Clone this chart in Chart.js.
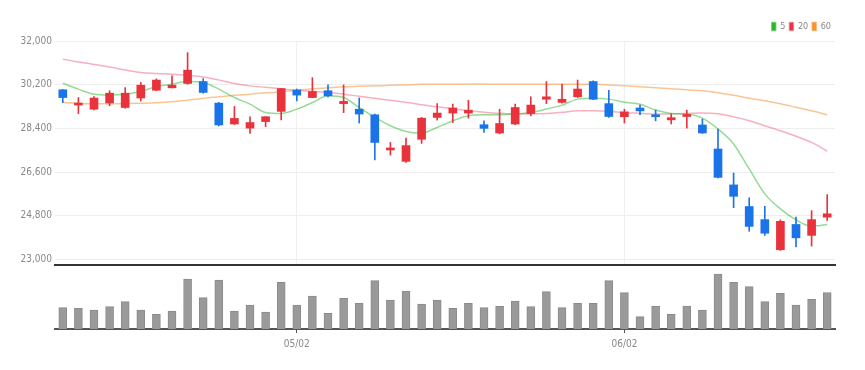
<!DOCTYPE html>
<html>
<head>
<meta charset="utf-8">
<script src="https://cdn.jsdelivr.net/npm/chart.js@4.4.0/dist/chart.umd.min.js"></script>
<style>
  body { margin: 0; background: #fff; }
  #wrap { position: relative; width: 865px; height: 370px; }
  #price_box { position: absolute; left: 0; top: 0; width: 865px; height: 274px; }
  #volume_box { position: absolute; left: 0; top: 266px; width: 865px; height: 104px; }
</style>
</head>
<body>
<div id="wrap">
  <div id="price_box"><canvas id="price_chart"></canvas></div>
  <div id="volume_box"><canvas id="volume_chart"></canvas></div>
</div>
<script>
// trading days, 2022-04-11 .. 2022-06-22
var dates = ["04/11","04/12","04/13","04/14","04/15","04/18","04/19","04/20","04/21","04/22",
             "04/25","04/26","04/27","04/28","04/29","05/02","05/03","05/04","05/06","05/09",
             "05/10","05/11","05/12","05/13","05/16","05/17","05/18","05/19","05/20","05/23",
             "05/24","05/25","05/26","05/27","05/30","05/31","06/02","06/03","06/07","06/08",
             "06/09","06/10","06/13","06/14","06/15","06/16","06/17","06/20","06/21","06/22"];

var opens  = [29990,29360,29190,29450,29260,29650,29970,30070,30250,30330,
              29440,28580,28410,28680,29100,29980,29670,29950,29420,29190,
              28960,27510,27040,27950,28850,29030,29030,28550,28210,28580,
              29010,29600,29470,29700,30330,29420,28880,29240,28960,28750,
              28890,28540,27550,26070,25180,24640,23400,24440,23990,24740];
var highs  = [30000,29670,29710,29950,30080,30290,30440,30560,31520,30450,
              29470,29300,28880,28880,30050,30020,30490,30190,30190,29650,
              28990,27820,28000,28850,29420,29400,29560,28710,29190,29400,
              29700,30330,30220,30390,30360,29970,29190,29360,29150,29000,
              29150,28780,28370,26560,25540,25190,24630,24740,25010,25670];
var lows   = [29460,29010,29160,29330,29230,29530,29950,30070,30220,29850,
              28500,28560,28190,28470,28750,29530,29670,29700,29050,28620,
              27100,27300,27000,27780,28740,28640,28820,28230,28170,28550,
              28920,29420,29440,29670,29580,28850,28620,28960,28710,28580,
              28410,28190,26360,25130,24160,23990,23370,23510,23550,24600];
var closes = [29670,29440,29650,29850,29850,30180,30390,30180,30800,29880,
              28540,28810,28640,28880,30040,29770,29920,29740,29510,28990,
              27820,27550,27690,28820,29030,29240,29150,28400,28600,29260,
              29360,29700,29600,30020,29600,28890,29080,29120,28880,28840,
              28960,28210,26380,25600,24360,24080,24570,23890,24640,24880];

// moving averages
var ma5  = [30262,30016,29810,29780,29810,29917,30123,30221,30328,30287,
            30016,29670,29399,29054,29013,29194,29465,29740,29670,29260,
            28849,28507,28274,28207,28438,28713,28918,28960,28960,28988,
            29054,29194,29358,29605,29646,29605,29473,29390,29153,29013,
            28988,28824,28372,27755,26728,25700,25084,24632,24369,24439];
var ma20 = [31249,31138,31035,30932,30809,30706,30665,30632,30583,30521,
            30398,30246,30151,30090,30028,29966,29925,29884,29810,29720,
            29637,29555,29473,29370,29288,29206,29124,29062,29021,28988,
            29000,29013,29062,29124,29124,29103,29042,29021,28988,29000,
            29013,29029,29000,28877,28713,28507,28302,28076,27821,27460];
var ma60 = [29465,29432,29412,29412,29420,29432,29453,29494,29555,29637,
            29700,29761,29810,29864,29905,29966,30028,30069,30110,30131,
            30151,30172,30192,30213,30221,30221,30225,30225,30221,30221,
            30221,30221,30221,30221,30213,30192,30151,30110,30069,30028,
            29987,29946,29864,29761,29637,29535,29412,29268,29124,28960];

var volumes = [106500,103500,95000,111500,136500,95000,73500,90000,250000,156500,
               245000,90000,120000,85000,233500,120000,165000,78500,153500,128500,
               241500,145000,190000,125000,145000,103500,128500,106500,113500,140000,
               111500,186500,106500,128500,128500,241500,181500,61500,115000,73500,
               115000,95000,275000,233500,211500,136500,178500,120000,148500,181500];

var price_ticks = [23000, 24800, 26600, 28400, 30200, 32000];

var up_color = "#e8323c";
var down_color = "#1a74e8";
var label_font = "'Liberation Sans Narrow', 'DejaVu Sans Condensed', 'Roboto', sans-serif";

function is_month_start(i) {
    if (i == 0) return false;
    return dates[i].substr(0, 2) != dates[i - 1].substr(0, 2);
}

var bodies = [], wicks = [], candle_colors = [];
for (var i = 0; i < dates.length; i++) {
    bodies.push([opens[i], closes[i]]);
    wicks.push([lows[i], highs[i]]);
    candle_colors.push(closes[i] >= opens[i] ? up_color : down_color);
}

function ma_line(label, data, line_color, box_color) {
    return {
        type: "line",
        label: label,
        data: data,
        borderColor: line_color,
        backgroundColor: box_color,
        borderWidth: 1.5,
        pointRadius: 0,
        cubicInterpolationMode: "monotone",
        order: 2
    };
}

var price_chart = new Chart(document.getElementById("price_chart"), {
    type: "bar",
    data: {
        labels: dates,
        datasets: [
            {
                label: "wick",
                data: wicks,
                backgroundColor: candle_colors,
                barThickness: 1,
                grouped: false,
                order: 1
            },
            {
                label: "body",
                data: bodies,
                backgroundColor: candle_colors,
                barThickness: 8,
                minBarLength: 2,
                grouped: false,
                order: 0
            },
            ma_line("5", ma5, "rgba(60,190,60,0.55)", "#2cb52c"),
            ma_line("20", ma20, "rgba(235,80,110,0.45)", "#e8323c"),
            ma_line("60", ma60, "rgba(245,150,60,0.55)", "#f5962c")
        ]
    },
    options: {
        responsive: true,
        maintainAspectRatio: false,
        animation: false,
        layout: { padding: { top: 18, right: 30, left: 0, bottom: 0 } },
        plugins: {
            tooltip: { enabled: false },
            legend: {
                position: "top",
                align: "end",
                labels: {
                    filter: function(item) { return item.text == "5" || item.text == "20" || item.text == "60"; },
                    boxWidth: 4,
                    boxHeight: 8,
                    padding: 4,
                    color: "#888",
                    font: { size: 9, family: label_font }
                }
            }
        },
        scales: {
            x: {
                offset: true,
                ticks: { display: false },
                grid: {
                    offset: false,
                    drawTicks: false,
                    color: function(ctx) { return is_month_start(ctx.index) ? "#f0f0f0" : "rgba(0,0,0,0)"; }
                },
                border: { color: "#333", width: 2 },
                afterFit: function(scale) { scale.height = 5; }
            },
            y: {
                min: 22770,
                max: 32000,
                afterBuildTicks: function(scale) {
                    scale.ticks = price_ticks.map(function(v) { return { value: v }; });
                },
                afterFit: function(scale) { scale.width = 55; },
                ticks: {
                    padding: 3,
                    color: "#888",
                    font: { size: 10, family: label_font },
                    callback: function(v) { return v.toLocaleString("en-US"); }
                },
                grid: { drawTicks: false, color: "#eeeeee" },
                border: { display: false }
            }
        }
    }
});

var volume_chart = new Chart(document.getElementById("volume_chart"), {
    type: "bar",
    data: {
        labels: dates,
        datasets: [{
            label: "volume",
            data: volumes,
            backgroundColor: "#9a9a9a",
            borderColor: "#8a8a8a",
            borderWidth: 1,
            barThickness: 8
        }]
    },
    options: {
        responsive: true,
        maintainAspectRatio: false,
        animation: false,
        layout: { padding: { top: 5, right: 30, left: 55, bottom: 0 } },
        plugins: { legend: { display: false }, tooltip: { enabled: false } },
        scales: {
            x: {
                offset: true,
                afterFit: function(scale) { scale.height = 41; },
                ticks: {
                    autoSkip: false,
                    maxRotation: 0,
                    padding: 5,
                    color: "#888",
                    font: { size: 10, family: label_font },
                    callback: function(v, i) { return is_month_start(i) ? dates[i] : ""; }
                },
                grid: {
                    offset: false,
                    drawOnChartArea: false,
                    tickLength: 4,
                    tickColor: function(ctx) { return is_month_start(ctx.index) ? "#555" : "rgba(0,0,0,0)"; }
                },
                border: { color: "#555", width: 2 }
            },
            y: {
                display: false,
                min: 0,
                max: 290000
            }
        }
    }
});
</script>
</body>
</html>
